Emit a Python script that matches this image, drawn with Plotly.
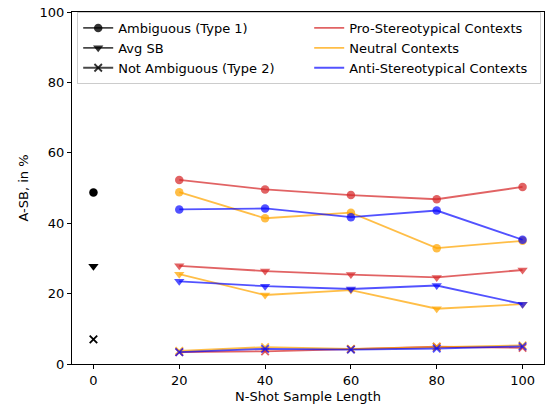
import plotly.graph_objects as go

shots = [20, 40, 60, 80, 100]
zero_x = [0]

# values at N=0 (black markers)
amb0 = [48.7]
avg0 = [27.8]
notamb0 = [7.0]

# Ambiguous (Type 1) - circles
pro_amb = [52.3, 49.6, 48.0, 46.8, 50.3]
neu_amb = [48.8, 41.4, 43.0, 32.9, 35.0]
anti_amb = [43.9, 44.2, 41.7, 43.6, 35.3]

# Avg SB - triangles
pro_avg = [27.9, 26.4, 25.4, 24.6, 26.7]
neu_avg = [25.5, 19.6, 21.0, 15.7, 17.0]
anti_avg = [23.5, 22.1, 21.3, 22.3, 17.0]

# Not Ambiguous (Type 2) - crosses
pro_not = [3.4, 3.6, 4.2, 4.9, 4.6]
neu_not = [3.7, 4.8, 4.3, 4.9, 5.3]
anti_not = [3.4, 4.3, 4.1, 4.4, 5.0]

y_ticks = [0, 20, 40, 60, 80, 100]
x_ticks = [0, 20, 40, 60, 80, 100]

RED = "rgba(214,39,40,0.72)"
ORANGE = "rgba(255,165,0,0.72)"
BLUE = "rgba(0,0,255,0.68)"
BLACK = "rgba(0,0,0,0.72)"

FONT = "DejaVu Sans"
FS = 13

fig = go.Figure()

def marker_for(kind, color):
    if kind == "circle":
        return dict(symbol="circle", size=8.5, color=color, line=dict(width=0))
    if kind == "tri":
        return dict(symbol="triangle-down", size=9, color=color, line=dict(width=0))
    return dict(symbol="x-thin", size=7.5, color=color, line=dict(width=1.8, color=color))

series = [
    (pro_amb, RED, "circle"), (neu_amb, ORANGE, "circle"), (anti_amb, BLUE, "circle"),
    (pro_avg, RED, "tri"), (neu_avg, ORANGE, "tri"), (anti_avg, BLUE, "tri"),
    (pro_not, RED, "x"), (neu_not, ORANGE, "x"), (anti_not, BLUE, "x"),
]
for vals, col, kind in series:
    fig.add_trace(go.Scatter(x=shots, y=vals, mode="lines+markers",
                             line=dict(color=col, width=1.8),
                             marker=marker_for(kind, col), showlegend=False))

for vals, kind in [(amb0, "circle"), (avg0, "tri"), (notamb0, "x")]:
    fig.add_trace(go.Scatter(x=zero_x, y=vals, mode="markers",
                             marker=marker_for(kind, "black"), showlegend=False))

# legend entries (interleaved so that two columns form)
legend_items = [
    ("Ambiguous (Type 1)", "circle", None),
    ("Pro-Stereotypical Contexts", None, RED),
    ("Avg SB", "tri", None),
    ("Neutral Contexts", None, ORANGE),
    ("Not Ambiguous (Type 2)", "x", None),
    ("Anti-Stereotypical Contexts", None, BLUE),
]
for name, kind, col in legend_items:
    if kind is not None:
        fig.add_trace(go.Scatter(x=[None], y=[None], mode="lines+markers", name=name,
                                 line=dict(color=BLACK, width=1.8),
                                 marker=marker_for(kind, "rgba(0,0,0,0.8)")))
    else:
        fig.add_trace(go.Scatter(x=[None], y=[None], mode="lines", name=name,
                                 line=dict(color=col, width=1.8)))

axis_common = dict(showline=True, linecolor="black", linewidth=1, mirror=True,
                   ticks="outside", ticklen=4, tickcolor="black", tickwidth=1,
                   showgrid=False, zeroline=False,
                   tickfont=dict(family=FONT, size=FS, color="black"))

fig.update_layout(
    width=546, height=407,
    margin=dict(l=72, r=2, t=12, b=43),
    paper_bgcolor="white", plot_bgcolor="white",
    font=dict(family=FONT, size=FS, color="black"),
    xaxis=dict(range=[-5, 105], tickvals=x_ticks,
               title=dict(text="N-Shot Sample Length", standoff=5,
                          font=dict(family=FONT, size=FS, color="black")),
               **axis_common),
    yaxis=dict(range=[0, 100], tickvals=y_ticks,
               title=dict(text="A-SB, in %", standoff=8,
                          font=dict(family=FONT, size=FS, color="black")),
               **axis_common),
    legend=dict(orientation="h", x=0.011, y=1.0, xanchor="left", yanchor="top",
                xref="paper", yref="paper",
                entrywidth=186, traceorder="normal",
                bgcolor="rgba(255,255,255,0.85)", bordercolor="#cccccc", borderwidth=1,
                font=dict(family=FONT, size=FS, color="black"),
                itemwidth=30),
)

fig.write_html("out.html", config={"displayModeBar": False},
               post_script="document.body.style.margin='0';document.body.style.padding='0';")
